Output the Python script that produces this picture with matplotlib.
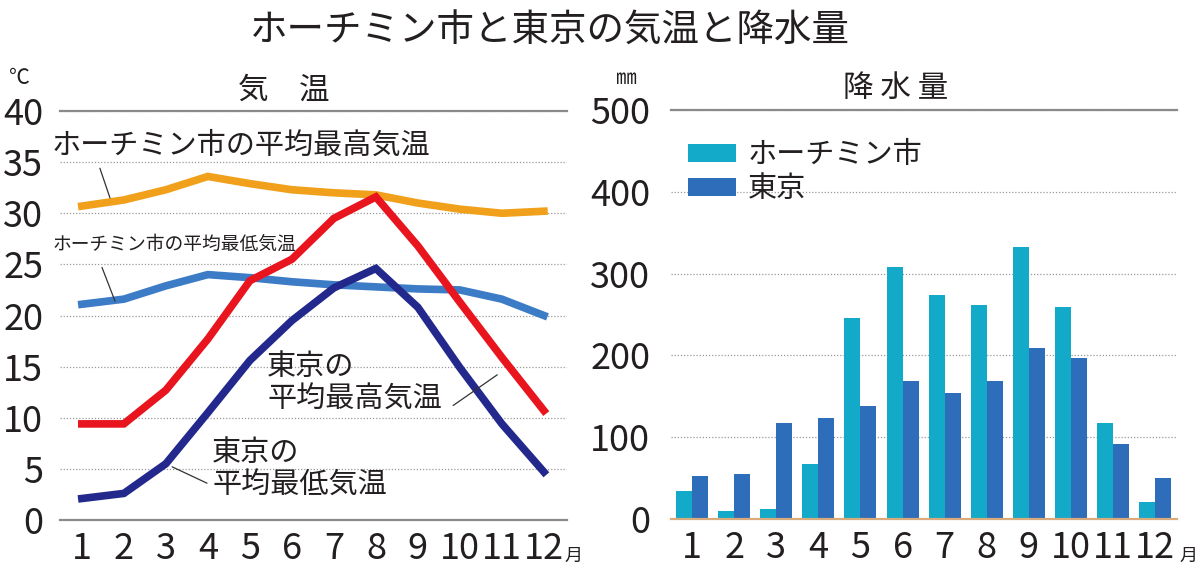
import numpy as np
import matplotlib
matplotlib.use("Agg")
from matplotlib import pyplot as plt
from matplotlib import font_manager

# monthly data
months = np.arange(1, 13)
month_labels = [str(m) for m in months]

# temperatures (deg C)
hcm_max = [30.7, 31.3, 32.3, 33.6, 32.9, 32.3, 32.0, 31.8, 31.0, 30.4, 30.0, 30.2]
hcm_min = [21.1, 21.6, 22.9, 24.0, 23.7, 23.3, 23.0, 22.8, 22.6, 22.5, 21.6, 20.0]
tokyo_max = [9.4, 9.4, 12.7, 17.7, 23.4, 25.5, 29.5, 31.6, 26.8, 21.3, 15.9, 10.7]
tokyo_min = [2.1, 2.6, 5.5, 10.5, 15.6, 19.5, 22.7, 24.6, 20.8, 14.9, 9.4, 4.7]

# precipitation (mm)
hcm_rain = [34, 10, 12, 67, 246, 308, 274, 262, 333, 259, 117, 21]
tokyo_rain = [53, 55, 117, 124, 138, 169, 154, 169, 209, 197, 92, 50]

temp_ticks = [0, 5, 10, 15, 20, 25, 30, 35, 40]
rain_ticks = [0, 100, 200, 300, 400, 500]

plt.rcParams['font.family'] = ['Noto Sans CJK JP', 'DejaVu Sans']


def pick_font(name, fallback):
    try:
        font_manager.findfont(name, fallback_to_default=False)
        return name
    except Exception:
        return fallback


num_font = pick_font('Liberation Sans Narrow', 'Noto Sans CJK JP')
text_col = '#231f20'

fig = plt.figure(figsize=(12, 5.77), dpi=100)
ax1 = fig.add_axes([0.05, 0.0988, 0.4225, 0.7088])
ax2 = fig.add_axes([0.5592, 0.1005, 0.4217, 0.7089])


def style_axis(ax, ticks, labels_y, bottom_col):
    ax.set_yticks(ticks)
    ax.set_xticks(months)
    ax.set_xticklabels(month_labels)
    for side in ('left', 'right'):
        ax.spines[side].set_visible(False)
    ax.spines['top'].set_color('#8a8a8a')
    ax.spines['top'].set_linewidth(1.6)
    ax.spines['bottom'].set_color(bottom_col)
    ax.spines['bottom'].set_linewidth(1.6)
    ax.grid(axis='y', color='#9a9a9a', linestyle=(0, (1, 1.5)), linewidth=0.9)
    ax.set_axisbelow(True)
    ax.tick_params(length=0, labelsize=26, colors=text_col)
    ax.tick_params(axis='y', pad=labels_y)
    ax.tick_params(axis='x', pad=8)
    for lab in ax.get_xticklabels() + ax.get_yticklabels():
        lab.set_fontfamily(num_font)


# --- temperature chart
ax1.plot(months, hcm_max, color='#f0a01a', lw=5.5, solid_joinstyle='miter')
ax1.plot(months, hcm_min, color='#3c7cc6', lw=5.5, solid_joinstyle='miter')
ax1.plot(months, tokyo_max, color='#e8141e', lw=5.5, solid_joinstyle='miter')
ax1.plot(months, tokyo_min, color='#23298c', lw=5.5, solid_joinstyle='miter')
ax1.set_xlim(0.48, 12.55)
ax1.set_ylim(0, 40)
style_axis(ax1, temp_ticks, 12, '#8a8a8a')

ax1.text(0.29, 36.6, 'ホーチミン市の平均最高気温', fontsize=21, color=text_col,
         ha='left', va='center')
ax1.text(0.29, 27.0, 'ホーチミン市の平均最低気温', fontsize=13.5, color=text_col,
         ha='left', va='center')
ax1.text(5.41, 13.4, '東京の\n平均最高気温', fontsize=21, color=text_col,
         ha='left', va='center', linespacing=1.1)
ax1.text(4.1, 5.0, '東京の\n平均最低気温', fontsize=21, color=text_col,
         ha='left', va='center', linespacing=1.1)
# leader lines
leader = dict(arrowstyle='-', color='#333333', lw=0.9, shrinkA=0, shrinkB=0)
ax1.annotate('', xy=(1.67, 31.5), xytext=(1.43, 34.4), arrowprops=leader)
ax1.annotate('', xy=(1.79, 21.4), xytext=(1.48, 24.7), arrowprops=leader)
ax1.annotate('', xy=(10.89, 14.2), xytext=(9.84, 11.2), arrowprops=leader)
ax1.annotate('', xy=(3.98, 3.6), xytext=(3.15, 5.2), arrowprops=leader)

# --- precipitation chart
bw = 0.38
b1 = ax2.bar(months - bw / 2, hcm_rain, width=bw, color='#13a9c8', label='ホーチミン市')
b2 = ax2.bar(months + bw / 2, tokyo_rain, width=bw, color='#2e6db9', label='東京')
ax2.set_xlim(0.5, 12.52)
ax2.set_ylim(0, 500)
style_axis(ax2, rain_ticks, 15, '#d9ab7c')
ax2.legend(loc='upper left', bbox_to_anchor=(0.01, 0.955), frameon=False,
           fontsize=21, handlelength=1.65, handleheight=0.6, handletextpad=0.4,
           labelspacing=0.15, borderaxespad=0, labelcolor=text_col)

# titles and units
fig.text(0.458, 0.946, 'ホーチミン市と東京の気温と降水量', fontsize=27,
         color=text_col, ha='center', va='center')
fig.text(0.2367, 0.844, '気　温', fontsize=22, color=text_col, ha='center', va='center')
fig.text(0.746, 0.8475, '降 水 量', fontsize=22, color=text_col, ha='center', va='center')
fig.text(0.016, 0.864, '℃', fontsize=15, color=text_col, ha='center', va='center')
fig.text(0.522, 0.864, '㎜', fontsize=15, color=text_col, ha='center', va='center')
fig.text(0.478, 0.036, '月', fontsize=13, color=text_col, ha='center', va='center')
fig.text(0.990, 0.036, '月', fontsize=13, color=text_col, ha='center', va='center')

fig.savefig('out.png', dpi=100, facecolor='white')
